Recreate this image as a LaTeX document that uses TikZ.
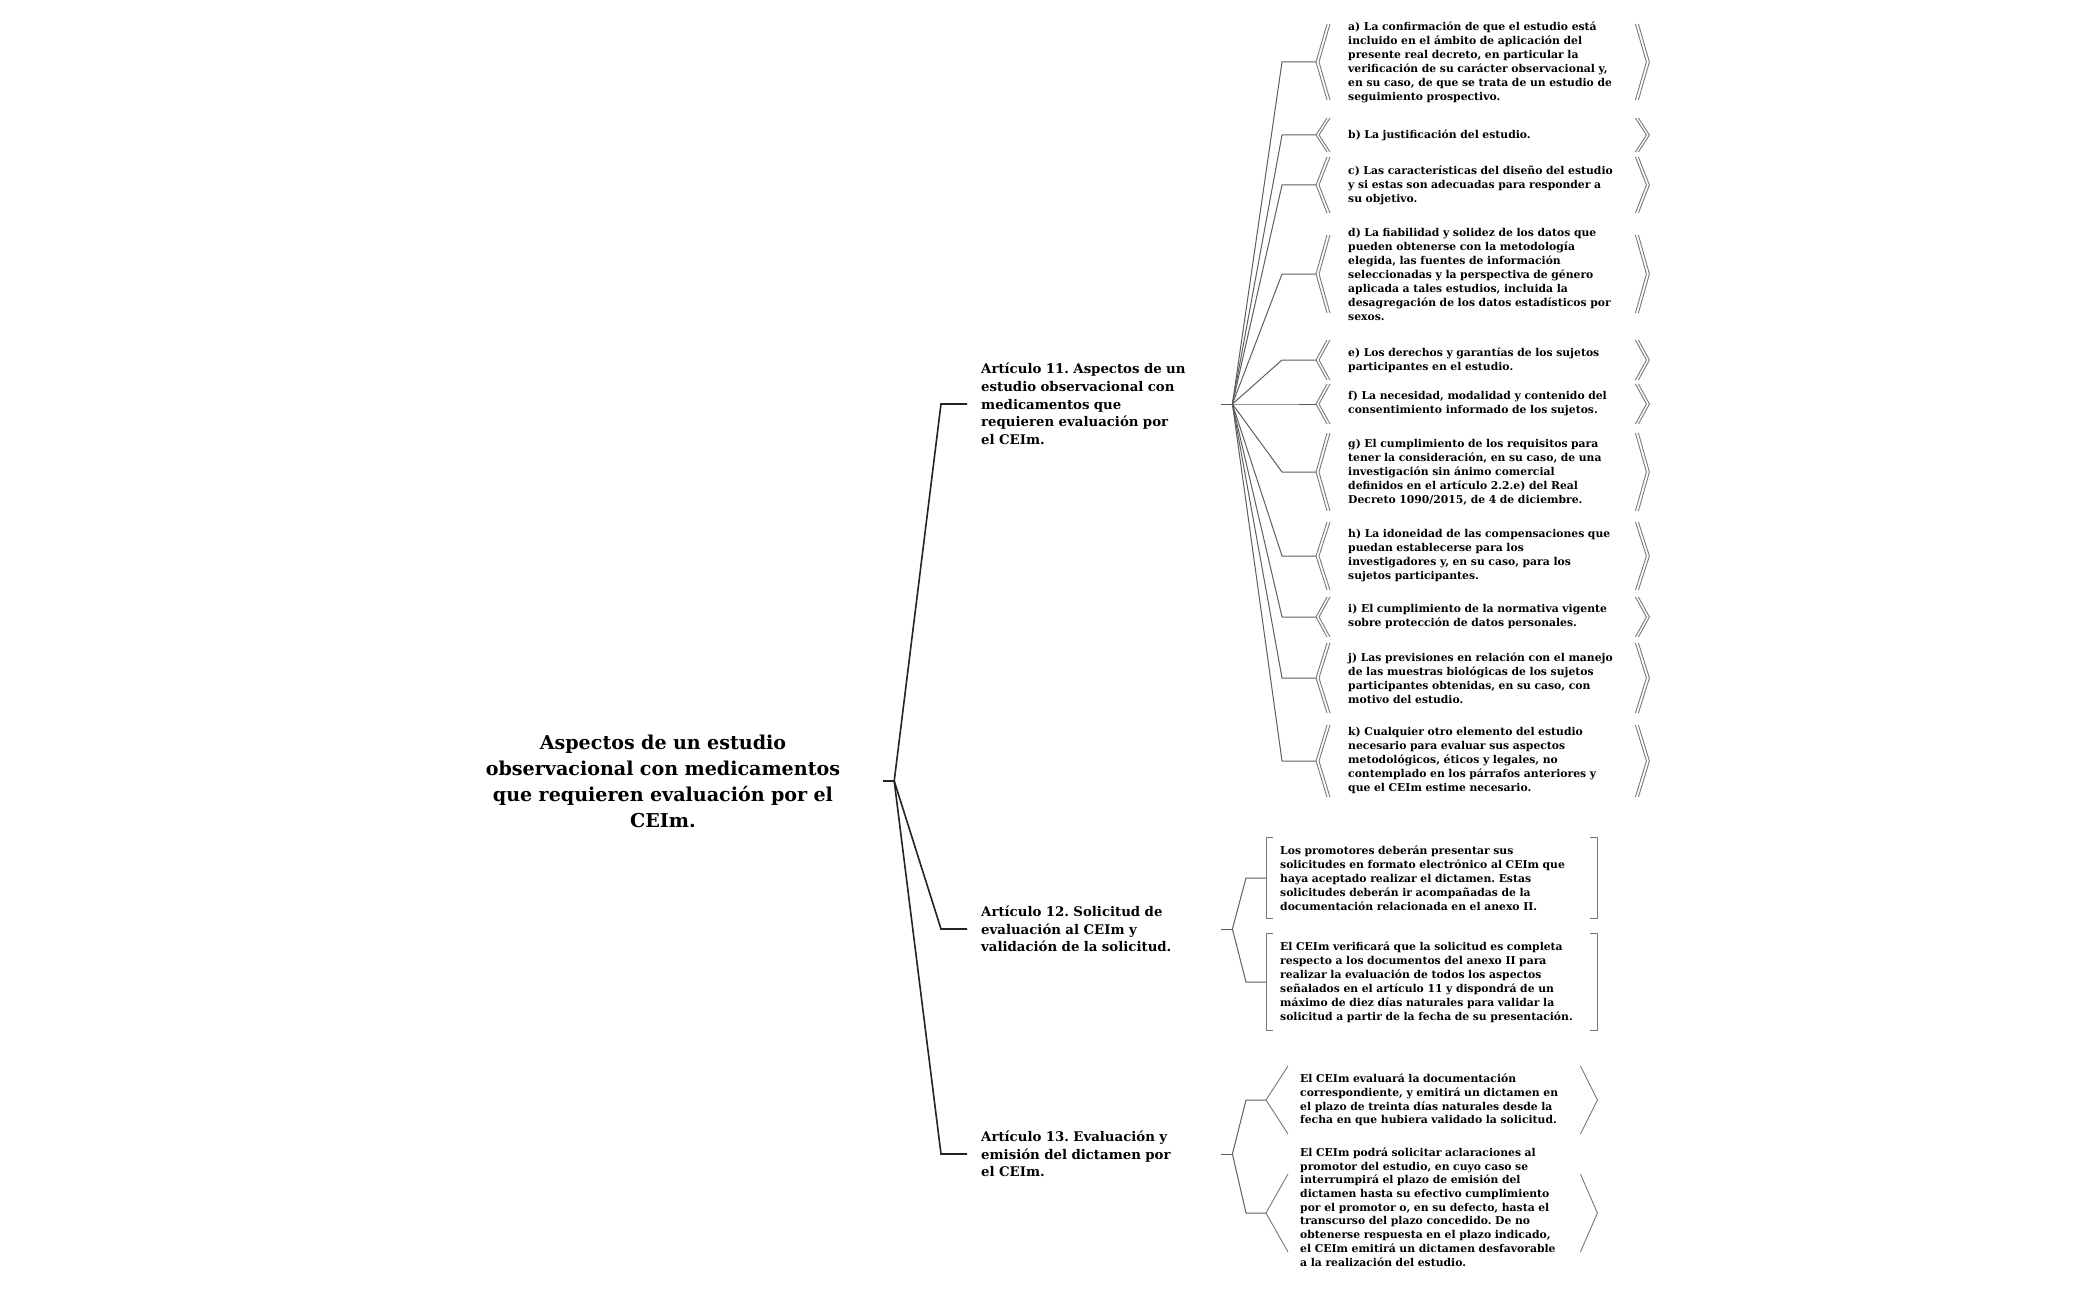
\documentclass[tikz,border=0pt]{standalone}
\usepackage{fontspec}
\setmainfont{DejaVu Serif}
\usetikzlibrary{calc}
\definecolor{ink}{RGB}{35,35,35}
\definecolor{twig}{RGB}{95,95,95}
\definecolor{rim}{RGB}{120,120,120}
\tikzset{
  root/.style={align=center, text width=380pt, minimum width=440pt, inner sep=0pt,
    font=\bfseries\fontsize{19.1}{26}\selectfont},
  article/.style={anchor=west, align=left, text width=226pt, inner xsep=14pt, inner ysep=2pt,
    font=\bfseries\fontsize{13.3}{17.7}\selectfont},
  % apartados del articulo 11
  item/.style={anchor=west, align=left, text width=269pt, inner xsep=32pt, inner ysep=0pt,
    font=\bfseries\fontsize{10.8}{14}\selectfont},
  % articulo 12
  req/.style={anchor=west, align=left, text width=303pt, inner xsep=14pt, inner ysep=8pt,
    font=\bfseries\fontsize{10.8}{14}\selectfont},
  % articulo 13
  verdict/.style={anchor=west, align=left, text width=263pt, inner xsep=34pt, inner ysep=0pt,
    font=\bfseries\fontsize{10.8}{13.7}\selectfont},
  trunk/.style={draw=ink, line width=1.6pt},
  branch/.style={draw=twig, line width=1pt},
  brk/.style={draw=rim, line width=0.9pt}
}
% doble chevron << >> alrededor de un nodo
\newcommand{\dchev}[2]{%
  \draw[brk] ($(#1.west)+(11,-#2)$) -- (#1.west) -- ($(#1.west)+(11,#2)$);
  \draw[brk] ($(#1.west)+(14,-#2)$) -- ($(#1.west)+(3,0)$) -- ($(#1.west)+(14,#2)$);
  \draw[brk] ($(#1.east)+(-11,-#2)$) -- (#1.east) -- ($(#1.east)+(-11,#2)$);
  \draw[brk] ($(#1.east)+(-14,-#2)$) -- ($(#1.east)+(-3,0)$) -- ($(#1.east)+(-14,#2)$);}
% chevron simple < >
\newcommand{\schev}[2]{%
  \draw[brk] ($(#1.west)+(22,-#2)$) -- (#1.west) -- ($(#1.west)+(22,#2)$);
  \draw[brk] ($(#1.east)+(-17,-#2)$) -- (#1.east) -- ($(#1.east)+(-17,#2)$);}
% corchetes [ ]
\newcommand{\sqbr}[1]{%
  \draw[brk] ($(#1.north west)+(7,0)$) -- (#1.north west) -- (#1.south west) -- ++(7,0);
  \draw[brk] ($(#1.north east)+(-7,0)$) -- (#1.north east) -- (#1.south east) -- ++(-7,0);}
\frenchspacing

\begin{document}
\begin{tikzpicture}[x=1pt, y=-1pt]
  \fill[white] (0,0) rectangle (2099,1300);
  \useasboundingbox (0,0) rectangle (2099,1300);

  \node[root] (root) at (663,781)
    {Aspectos de un estudio\\observacional con medicamentos\\que requieren evaluación por el\\CEIm.};

  \node[article] (art11) at (967,404)
    {Artículo 11. Aspectos de un\\estudio observacional con\\medicamentos que\\requieren evaluación por\\el CEIm.};
  \node[article] (art12) at (967,929)
    {Artículo 12. Solicitud de\\evaluación al CEIm y\\validación de la solicitud.};
  \node[article] (art13) at (967,1154)
    {Artículo 13. Evaluación y\\emisión del dictamen por\\el CEIm.};

  \draw[trunk] (root.east) -- ++(11,0) coordinate (hub);
  \foreach \n in {art11,art12,art13}
    \draw[trunk] (hub) -- ($(\n.west)+(-26,0)$) -- (\n.west);

  % Articulo 11
  \node[item] (ia) at (1316,62)
    {a) La confirmación de que el estudio está\\incluido en el ámbito de aplicación del\\presente real decreto, en particular la\\verificación de su carácter observacional y,\\en su caso, de que se trata de un estudio de\\seguimiento prospectivo.};
  \node[item] (ib) at (1316,135) {b) La justificación del estudio.};
  \node[item] (ic) at (1316,185)
    {c) Las características del diseño del estudio\\y si estas son adecuadas para responder a\\su objetivo.};
  \node[item] (id) at (1316,274)
    {d) La fiabilidad y solidez de los datos que\\pueden obtenerse con la metodología\\elegida, las fuentes de información\\seleccionadas y la perspectiva de género\\aplicada a tales estudios, incluida la\\desagregación de los datos estadísticos por\\sexos.};
  \node[item] (ie) at (1316,360)
    {e) Los derechos y garantías de los sujetos\\participantes en el estudio.};
  \node[item] (if) at (1316,404)
    {f) La necesidad, modalidad y contenido del\\consentimiento informado de los sujetos.};
  \node[item] (ig) at (1316,472)
    {g) El cumplimiento de los requisitos para\\tener la consideración, en su caso, de una\\investigación sin ánimo comercial\\definidos en el artículo 2.2.e) del Real\\Decreto 1090/2015, de 4 de diciembre.};
  \node[item] (ih) at (1316,556)
    {h) La idoneidad de las compensaciones que\\puedan establecerse para los\\investigadores y, en su caso, para los\\sujetos participantes.};
  \node[item] (ii) at (1316,617)
    {i) El cumplimiento de la normativa vigente\\sobre protección de datos personales.};
  \node[item] (ij) at (1316,678)
    {j) Las previsiones en relación con el manejo\\de las muestras biológicas de los sujetos\\participantes obtenidas, en su caso, con\\motivo del estudio.};
  \node[item] (ik) at (1316,761)
    {k) Cualquier otro elemento del estudio\\necesario para evaluar sus aspectos\\metodológicos, éticos y legales, no\\contemplado en los párrafos anteriores y\\que el CEIm estime necesario.};

  \draw[branch] (art11.east) -- ++(11,0) coordinate (hub11);
  \foreach \n in {a,b,c,d,e,f,g,h,i,j,k}
    \draw[branch] (hub11) -- ($(i\n.west)+(-34,0)$) -- (i\n.west);
  \dchev{ia}{38} \dchev{ib}{17} \dchev{ic}{28} \dchev{id}{39}
  \dchev{ie}{20} \dchev{if}{20} \dchev{ig}{39} \dchev{ih}{34}
  \dchev{ii}{20} \dchev{ij}{35} \dchev{ik}{36}

  % Articulo 12
  \node[req] (r1) at (1266,878)
    {Los promotores deberán presentar sus\\solicitudes en formato electrónico al CEIm que\\haya aceptado realizar el dictamen. Estas\\solicitudes deberán ir acompañadas de la\\documentación relacionada en el anexo II.};
  \node[req] (r2) at (1266,982)
    {El CEIm verificará que la solicitud es completa\\respecto a los documentos del anexo II para\\realizar la evaluación de todos los aspectos\\señalados en el artículo 11 y dispondrá de un\\máximo de diez días naturales para validar la\\solicitud a partir de la fecha de su presentación.};
  \draw[branch] (art12.east) -- ++(11,0) coordinate (hub12);
  \foreach \n in {r1,r2}
    \draw[branch] (hub12) -- ($(\n.west)+(-20,0)$) -- (\n.west);
  \sqbr{r1} \sqbr{r2}

  % Articulo 13
  \node[verdict] (v1) at (1266,1100)
    {El CEIm evaluará la documentación\\correspondiente, y emitirá un dictamen en\\el plazo de treinta días naturales desde la\\fecha en que hubiera validado la solicitud.};
  \node[verdict] (v2) at (1266,1207)
    {El CEIm podrá solicitar aclaraciones al\\promotor del estudio, en cuyo caso se\\interrumpirá el plazo de emisión del\\dictamen hasta su efectivo cumplimiento\\por el promotor o, en su defecto, hasta el\\transcurso del plazo concedido. De no\\obtenerse respuesta en el plazo indicado,\\el CEIm emitirá un dictamen desfavorable\\a la realización del estudio.};
  \draw[branch] (art13.east) -- ++(11,0) coordinate (hub13);
  \draw[branch] (hub13) -- ($(v1.west)+(-20,0)$) -- (v1.west);
  \draw[branch] (hub13) -- ($(v2.west)+(-20,6)$) -- ($(v2.west)+(0,6)$);
  \schev{v1}{34}
  \draw[brk] ($(v2.west)+(22,-33)$) -- ($(v2.west)+(0,6)$) -- ($(v2.west)+(22,45)$);
  \draw[brk] ($(v2.east)+(-17,-33)$) -- ($(v2.east)+(0,6)$) -- ($(v2.east)+(-17,45)$);
\end{tikzpicture}
\end{document}
